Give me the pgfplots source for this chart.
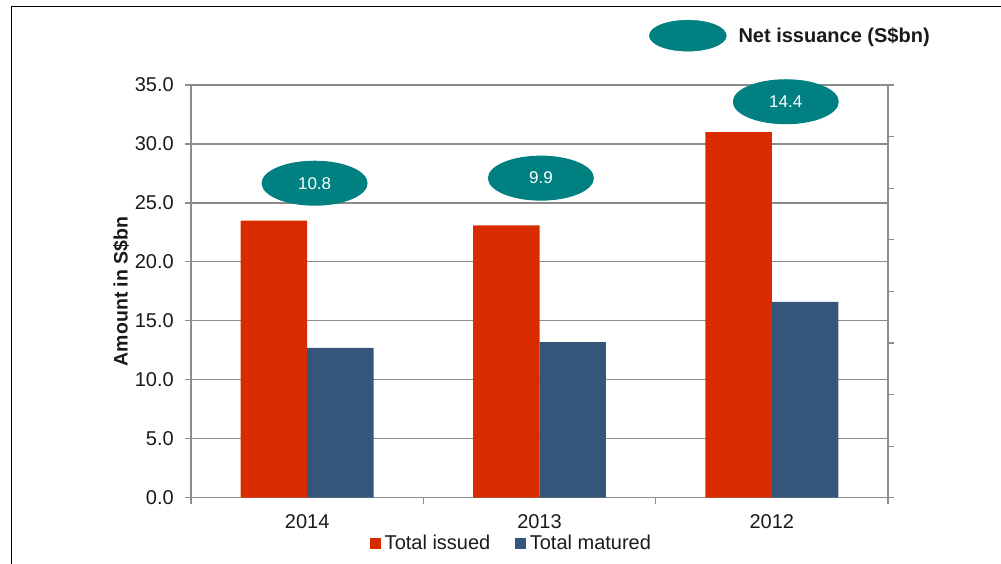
\documentclass[border=0pt]{standalone}
\usepackage{fontspec}
\setmainfont{Liberation Sans}
\usepackage{pgfplots}
\pgfplotsset{compat=1.18}
\usetikzlibrary{shapes.geometric}
\definecolor{issued}{HTML}{D92B00}
\definecolor{matured}{HTML}{36557A}
\definecolor{net}{HTML}{008080}
\definecolor{gridgray}{HTML}{8C8C8C}
\definecolor{ink}{HTML}{1A1A1A}
\newcommand{\chartfont}{\fontsize{20}{24}\selectfont}
\newcommand{\ylabfont}{\fontsize{19.5}{23}\selectfont}
\newcommand{\bubblefont}{\fontsize{17}{20}\selectfont}
\pgfplotsset{
  sqlegend/.style={legend image code/.code={\fill[##1] (0pt,-5.25pt) rectangle (10.5pt,5.25pt);}},
}

\begin{document}
\begin{tikzpicture}
\useasboundingbox (0,0) rectangle (1001pt,564pt);
\draw[black, line width=1.3pt] (11.7pt,-2pt) -- (11.7pt,557.5pt) -- (1003pt,557.5pt);

% main axis: bars, net issuance bubbles, bottom legend
\begin{axis}[
  at={(191pt,66.3pt)}, anchor=south west,
  scale only axis, width=697pt, height=412.7pt,
  xmin=-0.5, xmax=2.5, ymin=0, ymax=35,
  axis x line*=bottom, axis y line*=left,
  axis line style={gridgray, line width=1.2pt},
  xtick={0,1,2}, xticklabels={2014,2013,2012},
  major x tick style={draw=none},
  minor xtick={-0.5,0.5,1.5,2.5},
  minor tick length=6pt, major tick length=6pt,
  tick align=outside,
  tick style={gridgray, line width=1.2pt},
  ytick={0,5,...,35},
  ymajorgrids, grid style={gridgray, line width=1.2pt},
  /pgf/number format/.cd, fixed, fixed zerofill, precision=1, assume math mode=true, /pgfplots/.cd,
  tick label style={font=\chartfont, text=ink},
  yticklabel style={anchor=east, inner sep=0pt, xshift=-11pt},
  xticklabel style={anchor=base, inner sep=0pt, yshift=-25pt},
  ylabel={\bfseries Amount in S\$bn},
  ylabel style={at={(axis description cs:-0.1004,0.5)}, anchor=center, font=\ylabfont, text=ink},
  legend columns=2,
  legend style={at={(0.46,-0.1105)}, anchor=center, draw=none, fill=none,
    font=\chartfont, text=ink,
    /tikz/every odd column/.append style={column sep=2pt},
    /tikz/every even column/.append style={column sep=23pt}},
]
\addplot[ybar, bar width=0.286, bar shift=-0.143, fill=issued, draw=none, sqlegend]
  coordinates {(0,23.5) (1,23.1) (2,31.0)};
\addplot[ybar, bar width=0.286, bar shift=0.143, fill=matured, draw=none, sqlegend]
  coordinates {(0,12.7) (1,13.2) (2,16.6)};
\addplot[draw=none, mark=none, forget plot, point meta=explicit symbolic, nodes near coords,
  nodes near coords style={ellipse, fill=net, text=white, font=\bubblefont,
    minimum width=106pt, minimum height=45pt, inner sep=0pt, anchor=center}]
  coordinates {(0.032,26.67)[10.8] (1.006,27.1)[9.9] (2.06,33.58)[14.4]};
\legend{Total issued, Total matured}
\end{axis}

% secondary axis: unlabelled right-hand ticks and the top legend
\begin{axis}[
  at={(191pt,66.3pt)}, anchor=south west,
  scale only axis, width=697pt, height=412.7pt,
  xmin=-0.5, xmax=2.5, ymin=0, ymax=8,
  axis x line=none, axis y line*=right,
  axis line style={gridgray, line width=1.2pt},
  ytick={0,...,8}, yticklabels={},
  tick align=outside, major tick length=6pt,
  tick style={gridgray, line width=1.2pt},
  legend style={at={(0.657,1.1195)}, anchor=west, draw=none, fill=none,
    inner sep=0pt, font=\chartfont, text=ink,
    /tikz/every odd column/.append style={column sep=10pt}},
]
\addlegendimage{legend image code/.code={\fill[net] (38.5pt,0pt) ellipse [x radius=38.5pt, y radius=15.5pt];}}
\addlegendentry{\bfseries Net issuance (S\$bn)}
\end{axis}
\end{tikzpicture}
\end{document}
